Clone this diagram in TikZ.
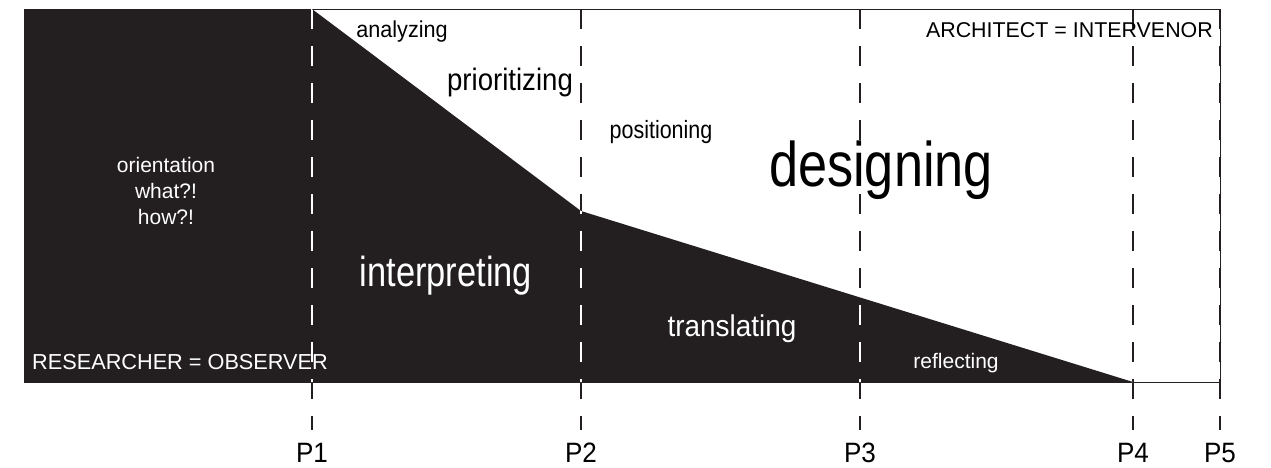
\documentclass[tikz,border=0pt]{standalone}
\usepackage{fontspec}
\setmainfont{Liberation Sans}
\usetikzlibrary{positioning}
\definecolor{ink}{HTML}{231F20}
\newcommand{\fs}[1]{\fontsize{#1}{#1}\selectfont}
\newcommand{\squeeze}[2]{\scalebox{#1}[1]{#2}}

\begin{document}
\begin{tikzpicture}[x=1pt,y=-1pt,
word/.style={inner sep=0pt,anchor=base,text=black},
onblack/.style={word,text=white},
phase/.style={ink,line width=1.2pt,dash pattern=on 20pt off 17pt}]
\useasboundingbox (0,0) rectangle (1271,467);

% corners of the dark area and of the frame
\coordinate (tl) at (24,9);
\coordinate (c1) at (312,9);
\coordinate (c2) at (581,211);
\coordinate (c4) at (1133,382);
\coordinate (bl) at (24,382);
\coordinate (tr) at (1220,9);
\coordinate (br) at (1220,382);

\fill[ink] (tl) -- (c1) -- (c2) -- (c4) -- (bl) -- cycle;
\draw[ink,line width=1pt] (tl) -- (tr) -- (br) -- (bl) -- cycle;

% phase lines with their labels
\foreach \x/\n in {312/1,581/2,860/3,1133/4,1220/5}{
  \draw[phase] (\x,9) -- (\x,430);
  \node[word,font=\fs{28}] (P\n) at (\x,462) {\squeeze{0.93}{P\n}};
}
\begin{scope}
  \clip (tl) -- (c1) -- (c2) -- (c4) -- (bl) -- cycle;
  \foreach \x in {312,581,860,1133}
    \draw[phase,white] (\x,9) -- (\x,430);
\end{scope}

% white side
\node[word,font=\fs{23}] (analyzing) at (402,37) {\squeeze{0.94}{analyzing}};
\node[word,font=\fs{31}] (prioritizing) at (510,90) {\squeeze{0.89}{prioritizing}};
\node[word,font=\fs{25}] (positioning) at (661,138) {\squeeze{0.86}{positioning}};
\node[word,font=\fs{63}] (designing) at (881,186) {\squeeze{0.83}{designing}};
\node[word,font=\fs{21.4},anchor=base east] (architect) at (1213,37) {ARCHITECT = INTERVENOR};

% dark side
\node[onblack,font=\fs{21}] (orientation) at (166,172) {orientation};
\node[onblack,font=\fs{21},below=26pt of orientation.base,anchor=base] (what) {what?!};
\node[onblack,font=\fs{21},below=26pt of what.base,anchor=base] (how) {how?!};
\node[onblack,font=\fs{42}] (interpreting) at (446,286) {\squeeze{0.82}{interpreting}};
\node[onblack,font=\fs{30}] (translating) at (732,336) {\squeeze{0.93}{translating}};
\node[onblack,font=\fs{21}] (reflecting) at (956,368) {reflecting};
\node[onblack,font=\fs{21.7},anchor=base west] (researcher) at (32,369) {RESEARCHER = OBSERVER};
\end{tikzpicture}
\end{document}
